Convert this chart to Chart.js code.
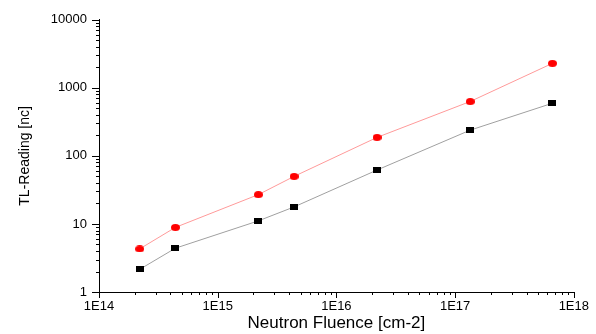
<!DOCTYPE html>
<html>
<head>
<meta charset="utf-8">
<script src="https://cdn.jsdelivr.net/npm/chart.js@4/dist/chart.umd.min.js"></script>
<style>
  html, body { margin: 0; padding: 0; background: #fff; }
  canvas { display: block; }
</style>
</head>
<body>
<canvas id="tlChart" width="596" height="334"></canvas>
<script>
/* ── TL-Reading vs neutron fluence ───────────────────── */

// data
var fluence     = [2.2e14, 4.4e14, 2.2e15, 4.4e15, 2.2e16, 1.34e17, 6.6e17];
var readingLow  = [2.15, 4.4, 11.1, 17.8, 62, 239, 594];     // black squares
var readingHigh = [4.3, 8.9, 27, 50, 187, 630, 2290];        // red circles

// major tick labels (one per decade)
var xDecades    = [1e14, 1e15, 1e16, 1e17, 1e18];
var xTickLabels = ['1E14', '1E15', '1E16', '1E17', '1E18'];
var yDecades    = [1, 10, 100, 1000, 10000];
var yTickLabels = ['1', '10', '100', '1000', '10000'];

function isDecade(v) {
  var l = Math.log10(v);
  return Math.abs(l - Math.round(l)) < 1e-9;
}

// majors plus the 2..9 minors in between
function logTicks(decades) {
  var out = [];
  decades.forEach(function (d, i) {
    out.push({ value: d });
    if (i < decades.length - 1) {
      for (var k = 2; k <= 9; k++) out.push({ value: d * k });
    }
  });
  return out;
}

function labelFor(value, decades, labels) {
  if (!isDecade(value)) return '';
  for (var i = 0; i < decades.length; i++) {
    if (Math.abs(Math.log10(decades[i]) - Math.log10(value)) < 1e-9) return labels[i];
  }
  return '';
}

// small marker images (slightly wider than tall, like the original)
function markerCanvas(shape, color, w, h) {
  var c = document.createElement('canvas');
  c.width = w; c.height = h;
  var g = c.getContext('2d');
  g.fillStyle = color;
  if (shape === 'ellipse') {
    g.beginPath();
    g.ellipse(w / 2, h / 2, w / 2, h / 2, 0, 0, Math.PI * 2);
    g.fill();
  } else {
    g.fillRect(0, 0, w, h);
  }
  return c;
}

// outward tick marks, long for decades, short for minors
var tickMarks = {
  id: 'tickMarks',
  afterDraw: function (chart) {
    var ctx = chart.ctx;
    var xs = chart.scales.x, ys = chart.scales.y;
    ctx.save();
    ctx.strokeStyle = '#000';
    ctx.lineWidth = 1;
    ctx.beginPath();
    xs.ticks.forEach(function (t) {
      var px = Math.round(xs.getPixelForValue(t.value)) + 0.5;
      var len = isDecade(t.value) ? 6 : 3;
      ctx.moveTo(px, xs.top);
      ctx.lineTo(px, xs.top + len);
    });
    ys.ticks.forEach(function (t) {
      var py = Math.round(ys.getPixelForValue(t.value)) + 0.5;
      var len = isDecade(t.value) ? 7 : 3;
      ctx.moveTo(ys.right, py);
      ctx.lineTo(ys.right - len, py);
    });
    ctx.stroke();
    ctx.restore();
  }
};

Chart.defaults.color = '#000';
Chart.defaults.font.family = '"Liberation Sans", Arial, sans-serif';

var ctx = document.getElementById('tlChart');
new Chart(ctx, {
  type: 'line',
  data: {
    datasets: [{
      label: 'low',
      data: fluence.map(function (x, i) { return { x: x, y: readingLow[i] }; }),
      borderColor: '#a0a0a0',
      borderWidth: 1,
      pointStyle: markerCanvas('rect', '#000', 8, 6),
      pointRadius: 4,
      pointHoverRadius: 4
    }, {
      label: 'high',
      data: fluence.map(function (x, i) { return { x: x, y: readingHigh[i] }; }),
      borderColor: '#ff9a9a',
      borderWidth: 1,
      pointStyle: markerCanvas('ellipse', '#ff0000', 9, 7),
      pointRadius: 4,
      pointHoverRadius: 4
    }]
  },
  options: {
    responsive: false,
    animation: false,
    devicePixelRatio: 1,
    layout: { padding: { left: 0, top: 19, right: 18, bottom: 0 } },
    plugins: {
      legend: { display: false },
      tooltip: { enabled: false }
    },
    scales: {
      x: {
        type: 'logarithmic',
        min: 1e14,
        max: 1e18,
        grid: { display: false, drawTicks: false },
        border: { display: true, color: '#000', width: 1 },
        afterBuildTicks: function (scale) { scale.ticks = logTicks(xDecades); },
        afterFit: function (scale) { scale.height = 42; },
        ticks: {
          autoSkip: false,
          maxRotation: 0,
          minRotation: 0,
          padding: 7,
          font: { size: 13 },
          callback: function (value) { return labelFor(value, xDecades, xTickLabels); }
        },
        title: {
          display: true,
          text: 'Neutron Fluence [cm-2]',
          font: { size: 17 },
          padding: { top: 0, bottom: 0 }
        }
      },
      y: {
        type: 'logarithmic',
        min: 1,
        max: 10000,
        grid: { display: false, drawTicks: false },
        border: { display: true, color: '#000', width: 1 },
        afterBuildTicks: function (scale) { scale.ticks = logTicks(yDecades); },
        afterFit: function (scale) { scale.width = 99; },
        ticks: {
          autoSkip: false,
          padding: 12,
          font: { size: 13 },
          callback: function (value) { return labelFor(value, yDecades, yTickLabels); }
        },
        title: {
          display: true,
          text: 'TL-Reading [nc]',
          font: { size: 14 },
          padding: { top: 17, bottom: 0 }
        }
      }
    }
  },
  plugins: [tickMarks]
});
</script>
</body>
</html>
